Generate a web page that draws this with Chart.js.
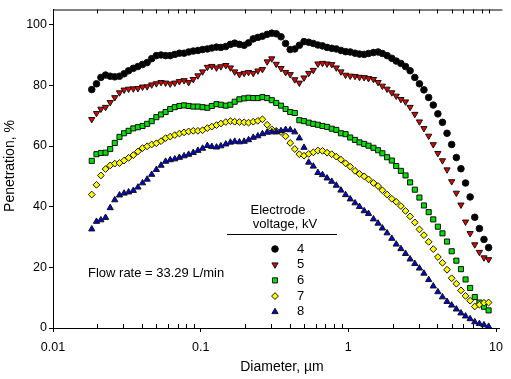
<!DOCTYPE html>
<html>
<head>
<title>Penetration vs diameter</title>
<style>
  body { margin: 0; background: #fff; }
  #wrap { width: 511px; height: 379px; }
</style>
<script src="https://cdn.jsdelivr.net/npm/chart.js"></script>
</head>
<body>
<div id="wrap"><canvas id="chart" width="511" height="379"></canvas></div>
<script>
// particle diameter, um
const diameters = [
  0.0183, 0.0197, 0.0211, 0.0227, 0.0244, 0.0262, 0.0282, 0.0303, 0.0325, 0.0350,
  0.0376, 0.0404, 0.0434, 0.0466, 0.0501, 0.0539, 0.0579, 0.0622, 0.0668, 0.0718,
  0.0772, 0.0829, 0.0891, 0.0958, 0.103, 0.111, 0.119, 0.128, 0.137, 0.148,
  0.159, 0.170, 0.183, 0.197, 0.211, 0.227, 0.244, 0.262, 0.282, 0.303,
  0.325, 0.350, 0.376, 0.404, 0.434, 0.466, 0.501, 0.539, 0.579, 0.622,
  0.668, 0.718, 0.772, 0.829, 0.891, 0.958, 1.03, 1.11, 1.19, 1.28,
  1.37, 1.48, 1.59, 1.70, 1.83, 1.97, 2.11, 2.27, 2.44, 2.62,
  2.82, 3.03, 3.25, 3.50, 3.76, 4.04, 4.34, 4.66, 5.01, 5.39,
  5.79, 6.22, 6.68, 7.18, 7.72, 8.29, 8.91
];

// penetration, % for each electrode voltage
const pen4kV = [
  78.6, 80.5, 82.6, 83.4, 83.0, 82.8, 83.0, 83.8, 84.8, 85.6,
  86.2, 86.9, 87.5, 88.8, 89.8, 90.0, 89.8, 89.8, 90.2, 90.6,
  90.6, 91.0, 91.3, 91.5, 91.8, 92.0, 92.3, 92.6, 92.5, 92.8,
  93.5, 93.9, 93.5, 93.2, 94.0, 95.3, 95.8, 96.2, 96.8, 97.2,
  97.0, 96.0, 93.8, 91.8, 92.0, 93.2, 94.4, 94.2, 93.8, 93.3,
  93.0, 92.5, 92.2, 92.0, 91.5, 91.1, 91.0, 90.6, 90.3, 90.2,
  90.5, 90.8, 91.0, 90.5, 89.8, 88.9, 88.0, 87.2, 86.2, 84.8,
  82.6, 80.5, 78.5, 76.0, 73.5, 70.6, 67.8, 64.2, 60.5, 56.2,
  52.5, 47.8, 43.2, 36.5, 32.8, 29.2, 26.5
];
const pen5kV = [
  68.8, 70.8, 72.2, 72.8, 74.4, 76.0, 77.6, 78.5, 78.8, 78.9,
  79.0, 79.5, 79.6, 80.2, 80.6, 81.0, 80.8, 80.5, 80.8, 81.3,
  81.6, 81.0, 82.0, 83.2, 84.5, 86.0, 86.3, 85.8, 86.2, 86.6,
  85.8, 84.5, 83.6, 84.0, 84.3, 84.0, 84.8, 85.3, 87.8, 88.8,
  87.0, 85.6, 84.3, 83.6, 81.9, 80.8, 82.5, 84.0, 85.0, 87.1,
  87.3, 87.1, 86.9, 85.8, 84.5, 83.4, 83.1, 83.0, 82.7, 82.6,
  82.3, 82.0, 81.0, 79.8, 78.8, 77.6, 76.5, 75.4, 74.6, 72.8,
  70.5, 68.0, 65.8, 63.3, 60.5, 57.6, 55.2, 52.2, 48.3, 44.5,
  40.6, 35.0, 31.2, 27.5, 25.0, 23.2, 22.6
];
const pen6kV = [
  55.1, 57.3, 57.7, 57.8, 59.0, 61.0, 63.0, 64.2, 65.0, 65.8,
  66.2, 66.6, 67.3, 68.2, 69.5, 70.4, 71.2, 72.2, 72.8, 73.2,
  73.4, 73.2, 73.0, 73.0, 72.8, 72.6, 73.2, 73.8, 73.6, 73.3,
  73.6, 74.6, 75.4, 75.7, 75.9, 75.8, 75.8, 76.1, 75.8, 75.1,
  74.2, 73.3, 72.2, 71.2, 70.9, 68.5, 68.2, 67.7, 67.3, 67.0,
  66.6, 66.3, 65.7, 65.3, 64.2, 63.9, 62.8, 62.0, 61.2, 60.7,
  60.1, 59.4, 58.6, 57.6, 56.3, 55.2, 53.4, 51.8, 50.3, 48.0,
  45.6, 43.0, 40.4, 38.2, 35.8, 33.4, 31.2, 28.5, 25.3, 22.2,
  19.4, 16.0, 13.2, 10.2, 8.4, 7.0, 5.8
];
const pen7kV = [
  44.0, 47.2, 50.3, 52.4, 53.6, 54.2, 54.4, 55.2, 56.1, 57.0,
  58.2, 59.3, 59.9, 60.5, 60.9, 61.6, 62.6, 63.1, 63.6, 64.1,
  64.5, 64.8, 65.0, 65.0, 65.2, 65.9, 66.4, 66.9, 67.4, 67.9,
  68.2, 68.0, 67.9, 67.8, 67.7, 68.0, 68.3, 68.8, 67.0, 65.5,
  65.0, 64.6, 63.2, 61.0, 59.0, 57.3, 56.8, 57.4, 57.9, 58.5,
  58.4, 57.8, 57.3, 56.5, 55.5, 54.3, 53.2, 51.8, 50.8, 50.0,
  49.0, 47.8, 46.8, 45.4, 44.0, 42.6, 41.6, 40.2, 38.6, 36.8,
  34.8, 32.5, 30.6, 28.4, 26.0, 23.4, 21.5, 19.2, 16.4, 14.6,
  12.4, 10.6, 9.0, 7.1, 7.7, 8.3, 8.4
];
const pen8kV = [
  32.6, 35.1, 35.6, 36.4, 39.6, 42.2, 43.8, 44.4, 44.8, 45.3,
  46.4, 47.8, 49.0, 50.6, 52.2, 53.6, 54.9, 55.4, 55.7, 56.2,
  56.7, 57.2, 57.8, 58.5, 59.2, 60.1, 59.8, 59.6, 60.0, 60.6,
  61.2, 61.5, 61.3, 61.5, 62.0, 62.8, 63.3, 64.0, 64.5, 64.6,
  64.6, 65.0, 65.4, 65.3, 64.6, 62.6, 59.5, 54.6, 53.3, 51.2,
  50.5, 49.4, 48.3, 47.0, 45.4, 43.9, 42.5, 41.2, 40.0, 38.6,
  37.7, 35.9, 34.5, 32.9, 31.3, 29.5, 27.6, 26.1, 24.5, 22.7,
  21.2, 19.7, 18.0, 15.9, 13.8, 11.9, 10.2, 8.7, 7.5, 6.2,
  4.9, 3.9, 3.0, 2.0, 1.4, 1.0, 0.5
];

const voltages = ['4', '5', '6', '7', '8'];
const xMajorTicks = [0.01, 0.1, 1, 10];
const xTickLabels = ['0.01', '0.1', '1', '10'];
const yTicks = [0, 20, 40, 60, 80, 100];

const FONT = "Arial, 'Liberation Sans', sans-serif";

function isDecade(v) {
  const l = Math.log10(v);
  return Math.abs(l - Math.round(l)) < 1e-6;
}
function pts(arr) {
  return diameters.map((d, i) => ({ x: d, y: arr[i] }));
}

const styles = [
  { data: pen4kV, pointStyle: 'circle', radius: 3.3, rotation: 0, fill: '#000000' },
  { data: pen5kV, pointStyle: 'triangle', radius: 3.6, rotation: 180, fill: '#e00000' },
  { data: pen6kV, pointStyle: 'rect', radius: 3.6, rotation: 0, fill: '#00e000' },
  { data: pen7kV, pointStyle: 'rectRot', radius: 3.4, rotation: 0, fill: '#ffff00' },
  { data: pen8kV, pointStyle: 'triangle', radius: 3.6, rotation: 0, fill: '#0000dd' }
];

const datasets = styles.map((s, i) => ({
  label: voltages[i] + ' kV',
  data: pts(s.data),
  showLine: false,
  pointStyle: s.pointStyle,
  pointRadius: s.radius,
  pointRotation: s.rotation,
  pointBackgroundColor: s.fill,
  pointBorderColor: '#111',
  pointBorderWidth: 1,
  order: 4 - i
}));

// frame bits, minor ticks, texts and the legend
const extras = {
  id: 'extras',
  beforeDatasetsDraw(chart) {
    const { ctx, chartArea: a, scales: { x } } = chart;
    ctx.save();
    ctx.strokeStyle = '#000';
    ctx.lineWidth = 1;
    ctx.beginPath();
    ctx.moveTo(a.left, a.top + 0.5);
    ctx.lineTo(a.right + 3, a.top + 0.5);
    x.ticks.forEach(t => {
      if (isDecade(t.value)) return;
      const px = Math.round(x.getPixelForValue(t.value)) + 0.5;
      ctx.moveTo(px, a.top);
      ctx.lineTo(px, a.top + 4);
      ctx.moveTo(px, a.bottom);
      ctx.lineTo(px, a.bottom - 4);
    });
    ctx.stroke();
    ctx.restore();
  },
  afterDraw(chart) {
    const { ctx } = chart;
    ctx.save();
    ctx.fillStyle = '#000';
    ctx.textBaseline = 'middle';

    ctx.font = '14px ' + FONT;
    ctx.textAlign = 'center';
    ctx.fillText('Diameter, \u00b5m', 282, 367);
    ctx.save();
    ctx.translate(10, 166);
    ctx.rotate(-Math.PI / 2);
    ctx.fillText('Penetration, %', 0, 0);
    ctx.restore();

    ctx.font = '13px ' + FONT;
    ctx.textAlign = 'left';
    ctx.fillText('Flow rate = 33.29 L/min', 88, 273);

    ctx.textAlign = 'center';
    ctx.fillText('Electrode', 278, 210);
    ctx.fillText('voltage, kV', 285, 224);
    ctx.strokeStyle = '#000';
    ctx.lineWidth = 1;
    ctx.beginPath();
    ctx.moveTo(227, 234.5);
    ctx.lineTo(337, 234.5);
    ctx.stroke();

    ctx.textAlign = 'left';
    chart.data.datasets.forEach((ds, i) => {
      const y = 249 + i * 15.7;
      ctx.fillStyle = ds.pointBackgroundColor;
      ctx.strokeStyle = ds.pointBorderColor;
      Chart.helpers.drawPoint(ctx, {
        pointStyle: ds.pointStyle, radius: ds.pointRadius,
        rotation: ds.pointRotation, borderWidth: 1
      }, 275, y);
      ctx.fillStyle = '#000';
      ctx.fillText(voltages[i], 297, y);
    });
    ctx.restore();
  }
};

new Chart(document.getElementById('chart'), {
  type: 'scatter',
  data: { datasets },
  plugins: [extras],
  options: {
    responsive: false,
    animation: false,
    devicePixelRatio: 1,
    layout: { padding: { left: 0, top: 8, right: 6, bottom: 0 } },
    plugins: { legend: { display: false }, tooltip: { enabled: false } },
    scales: {
      x: {
        type: 'logarithmic',
        min: 0.01,
        max: 10.55,
        afterBuildTicks(scale) {
          const t = [];
          for (let k = 0; k < xMajorTicks.length - 1; k++) {
            for (let m = 1; m <= 9; m++) t.push({ value: xMajorTicks[k] * m });
          }
          t.push({ value: xMajorTicks[xMajorTicks.length - 1] });
          scale.ticks = t;
        },
        afterFit(scale) { scale.height = 51; },
        ticks: {
          autoSkip: false,
          maxRotation: 0,
          padding: 8,
          color: '#000',
          font: { family: FONT, size: 12.5 },
          callback(v) {
            const k = xMajorTicks.findIndex(m => Math.abs(m - v) < m * 1e-6);
            return k >= 0 ? xTickLabels[k] : '';
          }
        },
        grid: {
          drawOnChartArea: false,
          tickLength: 4,
          tickColor: c => (c.tick && isDecade(c.tick.value)) ? '#000' : 'rgba(0,0,0,0)'
        },
        border: { display: true, color: '#000', width: 1 }
      },
      y: {
        min: 0,
        max: 105,
        afterBuildTicks(scale) { scale.ticks = yTicks.map(v => ({ value: v })); },
        afterFit(scale) { scale.width = 53; },
        ticks: {
          padding: 2,
          color: '#000',
          font: { family: FONT, size: 12.5 }
        },
        grid: { drawOnChartArea: false, tickLength: 4, tickColor: '#000' },
        border: { display: true, color: '#000', width: 1 }
      }
    }
  }
});
</script>
</body>
</html>
